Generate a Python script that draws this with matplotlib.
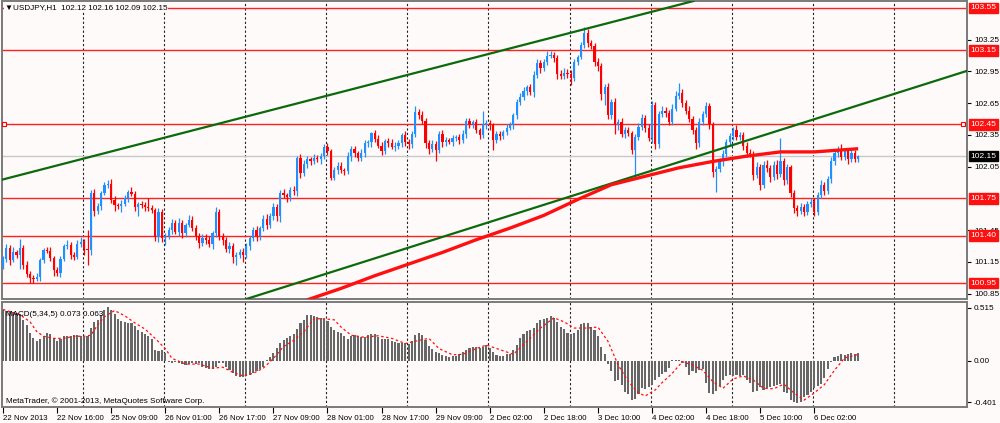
import numpy as np
import matplotlib
matplotlib.use("Agg")
import matplotlib.pyplot as plt
import matplotlib.transforms as mtransforms

plt.rcParams['font.family'] = ['Liberation Sans', 'DejaVu Sans']

# USDJPY H1 closes (bar 0 = 22 Nov 2013 00:00)
first_open = 101.12
closes = [
    101.18, 101.28, 101.17, 101.24, 101.22, 101.28, 101.12, 101.04, 101.00, 100.99,
    101.01, 101.17, 101.26, 101.25, 101.19, 101.07, 101.05, 101.18, 101.30, 101.31,
    101.22, 101.20, 101.32, 101.34, 101.27, 101.26, 101.80, 101.63, 101.68, 101.80,
    101.88, 101.89, 101.74, 101.69, 101.68, 101.70, 101.75, 101.81, 101.79, 101.67,
    101.70, 101.69, 101.67, 101.66, 101.64, 101.39, 101.62, 101.38, 101.40, 101.45,
    101.52, 101.43, 101.52, 101.42, 101.50, 101.55, 101.47, 101.40, 101.33, 101.38,
    101.36, 101.32, 101.42, 101.62, 101.40, 101.36, 101.27, 101.30, 101.20, 101.22,
    101.24, 101.22, 101.30, 101.38, 101.45, 101.40, 101.47, 101.56, 101.50, 101.58,
    101.67, 101.58, 101.80, 101.78, 101.76, 101.83, 101.82, 102.13, 101.99, 102.08,
    102.12, 102.10, 102.13, 102.12, 102.15, 102.24, 102.20, 101.94, 102.02, 102.06,
    102.02, 102.01, 102.15, 102.22, 102.18, 102.13, 102.18, 102.27, 102.28, 102.37,
    102.31, 102.25, 102.20, 102.29, 102.27, 102.24, 102.25, 102.27, 102.35, 102.28,
    102.26, 102.36, 102.57, 102.54, 102.48, 102.27, 102.22, 102.26, 102.21, 102.36,
    102.28, 102.30, 102.28, 102.32, 102.33, 102.30, 102.36, 102.48, 102.45, 102.47,
    102.40, 102.35, 102.44, 102.46, 102.44, 102.30, 102.36, 102.34, 102.38, 102.42,
    102.44, 102.54, 102.66, 102.71, 102.77, 102.80, 102.76, 102.92, 103.03, 102.98,
    103.04, 103.10, 103.11, 103.08, 102.93, 102.91, 102.94, 102.93, 102.89, 103.04,
    103.09, 103.20, 103.31, 103.22, 103.19, 103.04, 103.00, 102.74, 102.80, 102.54,
    102.66, 102.44, 102.47, 102.36, 102.40, 102.37, 102.21, 102.33, 102.43, 102.51,
    102.42, 102.32, 102.63, 102.26, 102.55, 102.58, 102.56, 102.47, 102.60, 102.72,
    102.75, 102.65, 102.58, 102.50, 102.40, 102.27, 102.47, 102.55, 102.62, 102.45,
    102.00, 102.03, 102.10, 102.17, 102.28, 102.34, 102.40, 102.33, 102.35, 102.25,
    102.18, 102.17, 101.97, 102.05, 101.88, 102.07, 102.04, 101.95, 102.07, 101.98,
    102.10, 101.92, 102.05, 101.80, 101.66, 101.63, 101.67, 101.62, 101.70, 101.72,
    101.62, 101.78, 101.88, 101.82, 101.93, 102.10, 102.18, 102.22, 102.14, 102.20,
    102.12, 102.18, 102.12, 102.15,
]

# wick lengths in pips above / below the body
wick_up = [
    3, 4, 3, 5, 2, 9, 3, 4, 2, 3, 4, 2, 2, 3, 4, 2, 3, 3, 2, 5,
    3, 2, 4, 5, 3, 18, 3, 4, 3, 2, 3, 3, 4, 3, 2, 4, 3, 2, 5, 3,
    2, 3, 3, 8, 3, 2, 4, 3, 2, 3, 4, 3, 5, 3, 2, 4, 3, 3, 2, 3,
    3, 4, 2, 5, 3, 2, 3, 4, 3, 2, 3, 4, 3, 2, 3, 4, 2, 3, 4, 3,
    4, 3, 3, 4, 2, 3, 4, 2, 4, 3, 3, 2, 4, 3, 3, 2, 3, 2, 3, 3,
    3, 2, 4, 3, 3, 2, 4, 3, 2, 1, 3, 4, 3, 2, 3, 4, 3, 3, 2, 4,
    3, 3, 5, 3, 4, 3, 3, 4, 3, 3, 4, 3, 2, 3, 2, 3, 4, 3, 3, 2,
    3, 2, 14, 3, 3, 2, 3, 3, 2, 3, 3, 2, 3, 4, 3, 2, 3, 3, 4, 3,
    3, 4, 3, 2, 3, 3, 4, 3, 3, 3, 2, 3, 6, 4, 3, 3, 4, 3, 3, 4,
    3, 4, 3, 4, 3, 3, 2, 3, 3, 4, 3, 3, 4, 3, 3, 4, 3, 3, 4, 5,
    9, 3, 3, 4, 3, 3, 4, 3, 4, 3, 2, 3, 3, 4, 3, 3, 3, 4, 3, 3,
    3, 4, 3, 4, 3, 3, 4, 3, 3, 4, 22, 3, 3, 2, 3, 3, 4, 3, 3, 3,
    3, 3, 4, 3, 3, 4, 3, 3, 4, 3, 3, 4, 3, 1,
]
wick_dn = [
    4, 3, 5, 2, 3, 14, 4, 3, 5, 4, 2, 4, 3, 2, 3, 5, 3, 4, 2, 3,
    4, 3, 2, 3, 5, 14, 4, 5, 3, 4, 2, 3, 3, 6, 3, 6, 2, 3, 2, 4,
    9, 3, 4, 3, 3, 4, 5, 4, 7, 3, 4, 2, 3, 4, 3, 2, 3, 4, 5, 3,
    4, 3, 5, 3, 4, 5, 3, 4, 6, 8, 3, 7, 3, 4, 3, 5, 4, 3, 4, 3,
    3, 4, 5, 3, 4, 3, 4, 5, 5, 3, 4, 3, 2, 3, 4, 3, 4, 2, 2, 4,
    3, 4, 3, 5, 4, 3, 3, 4, 3, 4, 3, 2, 4, 3, 3, 2, 4, 3, 3, 3,
    4, 3, 3, 4, 3, 4, 5, 3, 11, 3, 4, 3, 2, 3, 3, 4, 3, 4, 3, 3,
    3, 4, 3, 3, 4, 9, 3, 4, 3, 3, 2, 3, 4, 3, 3, 4, 3, 5, 3, 4,
    3, 3, 2, 4, 5, 3, 3, 4, 7, 3, 3, 2, 3, 4, 3, 4, 5, 6, 11, 4,
    4, 8, 4, 3, 4, 3, 4, 26, 3, 3, 4, 3, 5, 4, 3, 3, 4, 3, 3, 2,
    3, 4, 3, 3, 4, 5, 3, 3, 3, 4, 5, 19, 3, 4, 3, 3, 4, 3, 3, 4,
    4, 3, 5, 3, 5, 3, 4, 4, 3, 5, 3, 4, 3, 4, 5, 5, 3, 4, 3, 3,
    4, 3, 3, 4, 3, 3, 3, 4, 3, 3, 4, 3, 3, 3,
]

# MACD(5,34,5) main values per bar
macd = [
    0.50, 0.49, 0.49, 0.48, 0.47, 0.46, 0.40, 0.35, 0.27, 0.22,
    0.19, 0.21, 0.24, 0.27, 0.26, 0.22, 0.19, 0.21, 0.24, 0.24,
    0.24, 0.25, 0.25, 0.24, 0.23, 0.24, 0.32, 0.38, 0.40, 0.45,
    0.50, 0.52, 0.50, 0.46, 0.41, 0.39, 0.375, 0.37, 0.365, 0.34,
    0.30, 0.28, 0.26, 0.24, 0.21, 0.11, 0.10, 0.11, 0.075, -0.005,
    -0.015, -0.005, -0.02, -0.03, -0.04, -0.03, -0.015, -0.03, -0.02, -0.055,
    -0.07, -0.08, -0.08, -0.055, -0.015, -0.02, -0.06, -0.09, -0.12, -0.145,
    -0.16, -0.16, -0.15, -0.135, -0.12, -0.10, -0.08, -0.055, 0.01, 0.04,
    0.08, 0.13, 0.17, 0.20, 0.22, 0.24, 0.26, 0.31, 0.37, 0.40,
    0.45, 0.45, 0.44, 0.43, 0.42, 0.41, 0.39, 0.33, 0.30, 0.28,
    0.27, 0.24, 0.21, 0.24, 0.25, 0.24, 0.23, 0.23, 0.25, 0.26,
    0.26, 0.23, 0.21, 0.21, 0.21, 0.19, 0.18, 0.17, 0.17, 0.17,
    0.165, 0.19, 0.25, 0.27, 0.25, 0.20, 0.15, 0.12, 0.09, 0.08,
    0.06, 0.05, 0.04, 0.05, 0.05, 0.065, 0.09, 0.11, 0.13, 0.14,
    0.14, 0.13, 0.14, 0.155, 0.13, 0.09, 0.06, 0.05, 0.05, 0.065,
    0.065, 0.11, 0.16, 0.22, 0.26, 0.29, 0.30, 0.32, 0.365, 0.40,
    0.41, 0.42, 0.44, 0.42, 0.38, 0.33, 0.31, 0.27, 0.26, 0.27,
    0.30, 0.355, 0.37, 0.365, 0.33, 0.30, 0.24, 0.14, 0.065, -0.03,
    -0.10, -0.19, -0.18, -0.23, -0.30, -0.32, -0.38, -0.37, -0.32, -0.265,
    -0.27, -0.25, -0.23, -0.18, -0.16, -0.13, -0.11, -0.065, 0.005, 0.013,
    0.006, -0.02, -0.055, -0.135, -0.10, -0.12, -0.09, -0.08, -0.215, -0.31,
    -0.32, -0.29, -0.24, -0.18, -0.15, -0.135, -0.145, -0.135, -0.145, -0.135,
    -0.18, -0.21, -0.30, -0.29, -0.25, -0.28, -0.265, -0.25, -0.24, -0.23,
    -0.22, -0.30, -0.31, -0.38, -0.40, -0.41, -0.395, -0.345, -0.33, -0.30,
    -0.26, -0.24, -0.225, -0.17, -0.08, -0.005, 0.035, 0.05, 0.065, 0.06,
    0.065, 0.075, 0.070, 0.073,
]

# signal line read at sample bars
sig_x = [0, 5, 8, 10, 12, 15, 18, 21, 24, 26, 28, 30, 33, 36, 39, 42, 45, 48, 50, 54,
         58, 62, 65, 68, 71, 74, 77, 80, 83, 86, 89, 92, 95, 98, 100, 103, 107, 111, 115, 119,
         123, 126, 129, 133, 136, 140, 143, 147, 151, 155, 159, 163, 166, 169, 173, 176, 179, 182, 185, 188,
         190, 193, 195, 198, 201, 204, 207, 210, 213, 216, 219, 222, 225, 228, 231, 234, 237, 240, 243, 246,
         249, 253]
sig_y = [0.50, 0.45, 0.38, 0.285, 0.24, 0.22, 0.22, 0.24, 0.24, 0.25,
         0.35, 0.43, 0.49, 0.44, 0.37, 0.31, 0.22, 0.12, 0.025, -0.03,
         -0.03, -0.07, -0.06, -0.11, -0.145, -0.12, -0.07, 0.025, 0.14, 0.20,
         0.285, 0.41, 0.41, 0.40, 0.33, 0.25, 0.23, 0.245, 0.22, 0.17,
         0.20, 0.22, 0.12, 0.06, 0.065, 0.12, 0.155, 0.11, 0.065, 0.19,
         0.32, 0.42, 0.38, 0.32, 0.32, 0.33, 0.19, -0.04, -0.20, -0.31,
         -0.34, -0.28, -0.21, -0.12, -0.006, -0.04, -0.09, -0.20, -0.265, -0.175,
         -0.145, -0.185, -0.265, -0.27, -0.225, -0.31, -0.38, -0.31, -0.23, -0.09,
         0.03, 0.063]

# thick red moving average, read at sample bars
ma_x = [88, 100, 110, 120, 130, 140, 150, 160, 170, 180, 190, 200, 210, 220, 230, 240, 253]
ma_y = [100.77, 100.90, 101.02, 101.13, 101.24, 101.36, 101.47, 101.59, 101.74, 101.88,
        101.96, 102.04, 102.10, 102.15, 102.19, 102.19, 102.22]

# green channel lines: two anchor points each (bar, price)
upper_line = ((0, 101.93), (103, 102.78))
lower_line = ((72, 100.80), (251, 102.61))

levels = [103.55, 103.15, 102.45, 101.75, 101.40, 100.95]
level_labels = ["103.55", "103.15", "102.45", "101.75", "101.40", "100.95"]
bid = 102.15

price_ticks = [103.25, 102.95, 102.65, 102.35, 102.05, 101.45, 101.15, 100.85]
macd_ticks = [0.515, 0.0, -0.401]
macd_tick_labels = ["0.515", "0.00", "-0.401"]

time_labels = ["22 Nov 2013", "22 Nov 16:00", "25 Nov 09:00", "26 Nov 01:00", "26 Nov 17:00",
               "27 Nov 09:00", "28 Nov 01:00", "28 Nov 17:00", "29 Nov 09:00", "2 Dec 02:00",
               "2 Dec 18:00", "3 Dec 10:00", "4 Dec 02:00", "4 Dec 18:00", "5 Dec 10:00",
               "6 Dec 02:00"]

BG = '#fffafa'
BULL = '#1e90ff'
BEAR = '#ff0000'
FRAME = '#7a7a7a'

fig = plt.figure(figsize=(10, 4.23), dpi=100, facecolor=BG)
ax = fig.add_axes([0.002, 124 / 423, 0.965, 298 / 423], facecolor=BG)
ax2 = fig.add_axes([0.002, 16 / 423, 0.965, 105 / 423], facecolor=BG)

xlim = (-0.3, 285.2)

# ---- price panel ----
c = np.array(closes)
o = np.r_[first_open, c[:-1]]
idx = np.arange(len(c))
hi = np.maximum(o, c) + np.array(wick_up) / 100
lo = np.minimum(o, c) - np.array(wick_dn) / 100
cols = np.where(c >= o, BULL, BEAR)

for lv in levels:
    ax.axhline(lv, color='#ff2020', lw=1.0, zorder=2)
ax.axhline(bid, color='#c8c8c8', lw=1.0, zorder=1.5)

ax.vlines(idx, lo, hi, colors=cols, lw=0.9, zorder=3)
ax.bar(idx, np.maximum(np.abs(c - o), 0.006), bottom=np.minimum(o, c), width=0.65,
       color=cols, linewidth=0, zorder=4)

for (x1, y1), (x2, y2) in (upper_line, lower_line):
    ax.axline((x1, y1), (x2, y2), color='#0b6a0b', lw=1.6, zorder=5)

ax.plot(ma_x, ma_y, color='#ff1010', lw=2.4, zorder=6, solid_capstyle='butt')

trans = mtransforms.blended_transform_factory(ax.transAxes, ax.transData)
ax.plot([0.002, 0.996], [102.45, 102.45], ls='none', marker='s', ms=3,
        mfc=BG, mec='red', mew=0.8, transform=trans, zorder=7, clip_on=False)

ax.set_xlim(*xlim)
ax.set_ylim(100.80, 103.616)
ax.set_xticks([])
ax.yaxis.tick_right()
ax.set_yticks(price_ticks)
ax.set_yticklabels([f"{t:.2f}" for t in price_ticks])
ax.tick_params(axis='y', direction='out', length=3, width=0.8, pad=2, labelsize=5.9,
               colors='black')

for lv, lab in zip(levels, level_labels):
    ax.text(1.0035, lv, lab, transform=trans, ha='left', va='center', fontsize=6.0,
            color='white', zorder=20, clip_on=False,
            bbox=dict(boxstyle='square,pad=0.22', fc='#ff1010', ec='#ff1010'))
ax.text(1.0035, bid, "102.15", transform=trans, ha='left', va='center', fontsize=6.0,
        color='white', zorder=20, clip_on=False,
        bbox=dict(boxstyle='square,pad=0.22', fc='black', ec='black'))

ax.text(0.003, 0.977, "\u25bcUSDJPY,H1  102.12 102.16 102.09 102.15", transform=ax.transAxes,
        ha='left', va='center', fontsize=5.9, color='black', zorder=15,
        bbox=dict(boxstyle='square,pad=0.1', fc=BG, ec='none'))

# ---- MACD panel ----
ax2.bar(idx, macd, width=0.62, color='#676767', linewidth=0, zorder=3)
ax2.plot(sig_x, sig_y, color='#ff1010', lw=0.9, ls=(0, (2, 2)), zorder=4)
ax2.set_xlim(*xlim)
ax2.set_ylim(-0.447, 0.573)
ax2.yaxis.tick_right()
ax2.set_yticks(macd_ticks)
ax2.set_yticklabels(macd_tick_labels)
ax2.tick_params(axis='y', direction='out', length=3, width=0.8, pad=2, labelsize=5.9)
ax2.set_xticks(np.arange(0, 16 * len(time_labels), 16))
ax2.set_xticklabels(time_labels)
ax2.tick_params(axis='x', direction='out', length=4, width=0.8, pad=1.5, labelsize=5.7)
for t in ax2.get_xticklabels():
    t.set_ha('left')

ax2.text(0.004, 0.88, "MACD(5,34,5) 0.073 0.063", transform=ax2.transAxes, ha='left',
         va='center', fontsize=5.9, color='black', zorder=10)
ax2.text(0.004, 0.06, "MetaTrader, \u00a9 2001-2013, MetaQuotes Software Corp.",
         transform=ax2.transAxes, ha='left', va='center', fontsize=5.9, color='black', zorder=10)

# dashed vertical grid on both panels
for a in (ax, ax2):
    for g in np.arange(24, 280, 24) - 0.4:
        a.axvline(g, color='#202020', lw=0.8, ls=(0, (2, 2)), zorder=1)
    for s in a.spines.values():
        s.set_color(FRAME)
        s.set_linewidth(1.4)

fig.savefig("out.png", dpi=100, facecolor=BG)
